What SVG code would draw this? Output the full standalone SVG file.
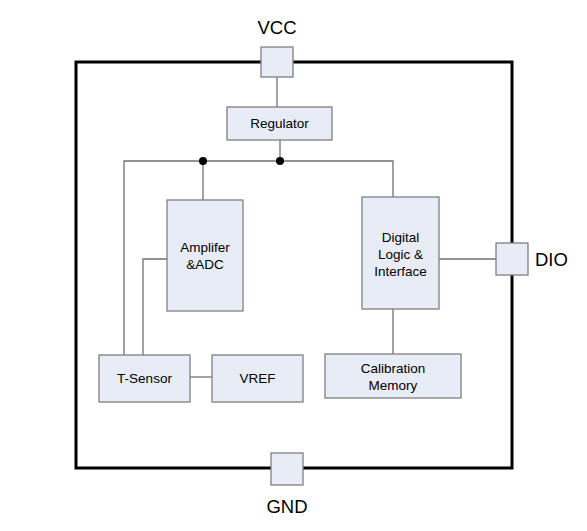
<svg xmlns="http://www.w3.org/2000/svg" width="587" height="531" viewBox="0 0 587 531">
<style>
.box{fill:#e8ecf6;stroke:#808080;stroke-width:1.3}
.t{font-family:"Liberation Sans",Arial,sans-serif;font-size:13.5px;fill:#000;text-anchor:middle}
.lbl{font-family:"Liberation Sans",Arial,sans-serif;font-size:18.5px;fill:#000}
.w{fill:none;stroke:#707070;stroke-width:1.3}
</style>
<rect width="587" height="531" fill="#fff"/>
<g id="chip"><rect x="76" y="62" width="436" height="406" fill="none" stroke="#000" stroke-width="3"/></g>
<g id="connectors">
<path class="w" d="M277 77V107"/>
<path class="w" d="M280 140V161"/>
<path class="w" d="M124 355V161H393V197"/>
<path class="w" d="M203 161V200"/>
<path class="w" d="M167 259H143V355"/>
<path class="w" d="M190 377H212"/>
<path class="w" d="M393 309V354"/>
<path class="w" d="M439 259H496"/>
<circle cx="203" cy="161" r="4" fill="#000"/>
<circle cx="280" cy="161" r="4" fill="#000"/>
</g>
<g id="vcc"><rect class="box" x="261" y="47" width="32" height="30"/><text class="lbl" x="277" y="34" text-anchor="middle">VCC</text></g>
<g id="gnd"><rect class="box" x="271" y="453" width="32" height="32"/><text class="lbl" x="287" y="513" text-anchor="middle">GND</text></g>
<g id="dio"><rect class="box" x="496" y="243" width="32" height="32"/><text class="lbl" x="535" y="266">DIO</text></g>
<g id="regulator"><rect class="box" x="227" y="107" width="105" height="33"/><text class="t" x="279.5" y="128">Regulator</text></g>
<g id="amplifier"><rect class="box" x="167" y="200" width="76" height="111"/><text class="t" x="205" y="252">Amplifer</text><text class="t" x="205" y="269">&amp;ADC</text></g>
<g id="digital"><rect class="box" x="362" y="197" width="77" height="112"/><text class="t" x="400.5" y="242">Digital</text><text class="t" x="400.5" y="259">Logic &amp;</text><text class="t" x="400.5" y="276">Interface</text></g>
<g id="tsensor"><rect class="box" x="99" y="355" width="91" height="47"/><text class="t" x="144.5" y="383">T-Sensor</text></g>
<g id="vref"><rect class="box" x="212" y="355" width="91" height="47"/><text class="t" x="257.5" y="383">VREF</text></g>
<g id="calibration"><rect class="box" x="325" y="354" width="136" height="44"/><text class="t" x="393" y="373">Calibration</text><text class="t" x="393" y="390">Memory</text></g>
</svg>
